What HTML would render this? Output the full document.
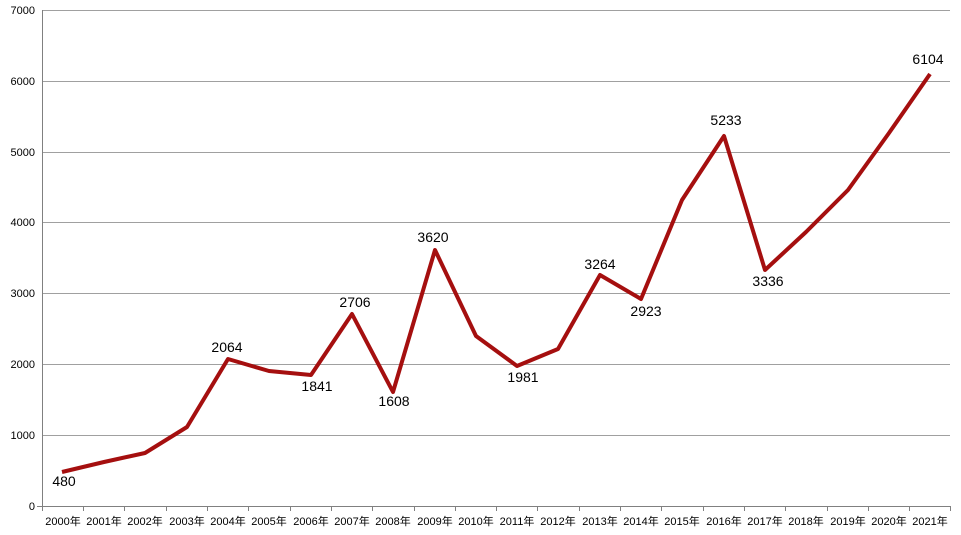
<!DOCTYPE html>
<html><head><meta charset="utf-8"><style>body{margin:0;background:#fff}svg{display:block}</style></head><body>
<svg width="961" height="535" xmlns="http://www.w3.org/2000/svg" font-family="Liberation Sans, Noto Sans CJK SC, sans-serif">
<g stroke="#a0a0a0" stroke-width="1">
<line x1="42" y1="435.5" x2="950" y2="435.5"/><line x1="42" y1="364.5" x2="950" y2="364.5"/><line x1="42" y1="293.5" x2="950" y2="293.5"/><line x1="42" y1="222.5" x2="950" y2="222.5"/><line x1="42" y1="152.5" x2="950" y2="152.5"/><line x1="42" y1="81.5" x2="950" y2="81.5"/><line x1="42" y1="10.5" x2="950" y2="10.5"/>
</g>
<g stroke="#808080" stroke-width="1">
<line x1="42.5" y1="10" x2="42.5" y2="511"/><line x1="37" y1="506.5" x2="950" y2="506.5"/>
<path d="M83.5 506v5M124.5 506v5M166.5 506v5M207.5 506v5M248.5 506v5M290.5 506v5M331.5 506v5M372.5 506v5M414.5 506v5M455.5 506v5M496.5 506v5M537.5 506v5M579.5 506v5M620.5 506v5M661.5 506v5M703.5 506v5M744.5 506v5M785.5 506v5M827.5 506v5M868.5 506v5M909.5 506v5M950.5 506v5"/>
</g>
<g font-size="11" fill="#000" text-anchor="end">
<text x="35" y="510">0</text><text x="35" y="439">1000</text><text x="35" y="368">2000</text><text x="35" y="297">3000</text><text x="35" y="226">4000</text><text x="35" y="156">5000</text><text x="35" y="85">6000</text><text x="35" y="14">7000</text>
</g>
<g font-size="11" fill="#000" text-anchor="middle">
<text x="63" y="525">2000年</text><text x="104" y="525">2001年</text><text x="145" y="525">2002年</text><text x="187" y="525">2003年</text><text x="228" y="525">2004年</text><text x="269" y="525">2005年</text><text x="311" y="525">2006年</text><text x="352" y="525">2007年</text><text x="393" y="525">2008年</text><text x="435" y="525">2009年</text><text x="476" y="525">2010年</text><text x="517" y="525">2011年</text><text x="558" y="525">2012年</text><text x="600" y="525">2013年</text><text x="641" y="525">2014年</text><text x="682" y="525">2015年</text><text x="724" y="525">2016年</text><text x="765" y="525">2017年</text><text x="806" y="525">2018年</text><text x="848" y="525">2019年</text><text x="889" y="525">2020年</text><text x="930" y="525">2021年</text>
</g>
<polyline fill="none" stroke="#a50f0f" stroke-width="4" stroke-linejoin="round" points="62,472 104,462 145,453 187,427 228,359 269,371 311,375 352,314 393,392 435,250 476,336 517,366 558,349 600,275 641,299 682,200 724,136 765,270 806,232 848,190 889,133 930,74"/>
<g font-size="14" fill="#000" text-anchor="middle">
<text x="64" y="486">480</text><text x="227" y="352">2064</text><text x="317" y="391">1841</text><text x="355" y="307">2706</text><text x="394" y="406">1608</text><text x="433" y="242">3620</text><text x="523" y="382">1981</text><text x="600" y="269">3264</text><text x="646" y="316">2923</text><text x="726" y="125">5233</text><text x="768" y="286">3336</text><text x="928" y="64">6104</text>
</g>
</svg>
</body></html>
